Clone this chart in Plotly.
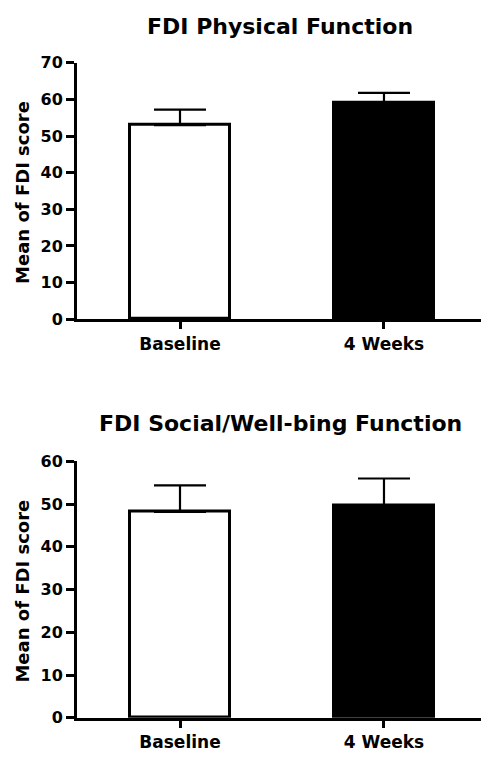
import plotly.graph_objects as go
from plotly.subplots import make_subplots

categories = ["Baseline", "4 Weeks"]
physical_mean = [53.0, 59.0]
physical_sem = [4.2, 2.8]
social_mean = [48.2, 49.7]
social_sem = [6.2, 6.3]
bar_fill = ["white", "black"]
titles = ["FDI Physical Function", "FDI Social/Well-bing Function"]
y_title = "Mean of FDI score"
phys_ticks = [0, 10, 20, 30, 40, 50, 60, 70]
soc_ticks = [0, 10, 20, 30, 40, 50, 60]

# the page has an 8px body margin; the figure is drawn 8px smaller so nothing overflows
OFF = 8
W, H = 489 - OFF, 757 - OFF
FONT = "DejaVu Sans, Liberation Sans, Arial, sans-serif"


def px(x):
    return (x - OFF) / W


def py(y):
    return 1 - (y - OFF) / H


fig = make_subplots(rows=2, cols=1)

for row, (means, errs) in enumerate([(physical_mean, physical_sem), (social_mean, social_sem)], start=1):
    fig.add_trace(go.Bar(
        x=[0, 1], y=means, width=0.49,
        marker=dict(color=bar_fill, line=dict(color="black", width=3)),
        error_y=dict(type="data", array=errs, arrayminus=[0, 0], symmetric=False,
                     thickness=2.2, width=26, color="black"),
        showlegend=False,
    ), row=row, col=1)

xdom = [px(77), px(488)]
top_dom = [py(318), py(55)]
bot_dom = [py(727), py(464)]

common_x = dict(
    domain=xdom, range=[-0.505, 1.51], tickvals=[0, 1], ticktext=categories,
    showline=True, linecolor="black", linewidth=3, ticks="outside", ticklen=7,
    tickwidth=2.5, tickcolor="black", showgrid=False, zeroline=False,
    tickfont=dict(family=FONT, size=17, color="black", weight="bold"),
)
common_y = dict(
    showline=True, linecolor="black", linewidth=3, ticks="outside", ticklen=8,
    tickwidth=2.5, tickcolor="black", showgrid=False, zeroline=False,
    tickfont=dict(family=FONT, size=16, color="black", weight="bold"),
)
fig.update_layout(
    xaxis=dict(common_x, anchor="y"),
    xaxis2=dict(common_x, anchor="y2"),
    yaxis=dict(common_y, domain=top_dom, range=[0, 70], tickvals=phys_ticks),
    yaxis2=dict(common_y, domain=bot_dom, range=[0, 60], tickvals=soc_ticks),
)

annos = [
    dict(text=titles[0], x=px(280), y=py(18), font=dict(size=22)),
    dict(text=titles[1], x=px(280), y=py(425), font=dict(size=22)),
    dict(text=y_title, x=px(23), y=py(188.5), textangle=-90, font=dict(size=18)),
    dict(text=y_title, x=px(23), y=py(597.5), textangle=-90, font=dict(size=18)),
]
for a in annos:
    a["font"].update(family=FONT, color="black", weight="bold")
    fig.add_annotation(xref="paper", yref="paper", xanchor="center", yanchor="middle",
                       showarrow=False, **a)

fig.update_layout(
    width=W, height=H, margin=dict(l=0, r=0, t=0, b=0),
    paper_bgcolor="white", plot_bgcolor="white", bargap=0,
)

fig.write_html("out.html")
